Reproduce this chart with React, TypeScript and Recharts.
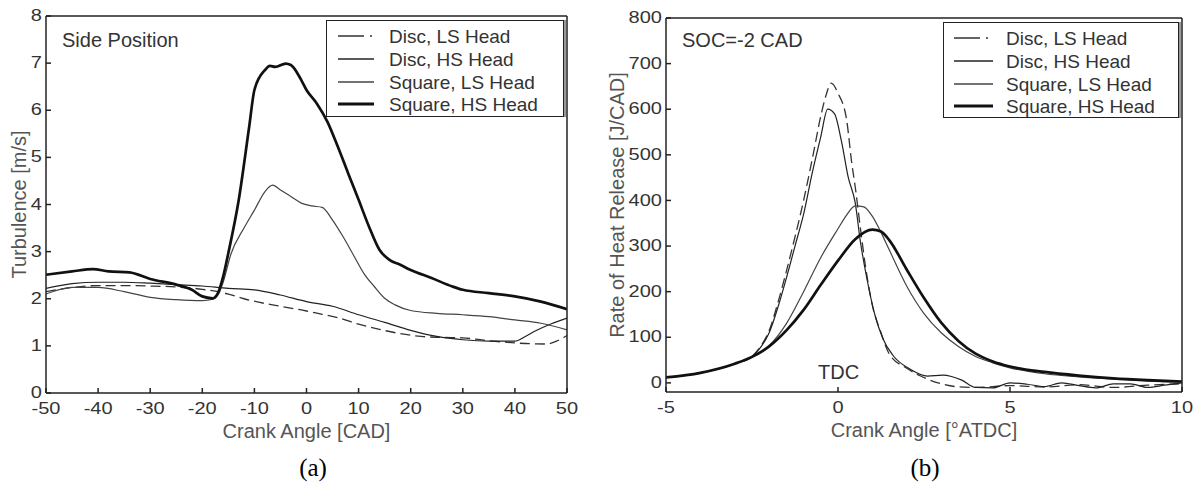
import React from 'react';
import { LineChart, Line, XAxis, YAxis, Legend } from 'recharts';

// ---------- (a) turbulence at the side position ----------
const turbAngleTicks = [-50, -40, -30, -20, -10, 0, 10, 20, 30, 40, 50];
const turbTicks = [0, 1, 2, 3, 4, 5, 6, 7, 8];

const discLsAngle = [-50, -45, -40, -35, -30, -25, -20, -15, -12, -8, -5, 0, 3, 6, 10, 14, 18, 22, 26, 30, 34, 38, 42, 46, 48, 50];
const discLsTurb = [2.15, 2.24, 2.28, 2.28, 2.27, 2.25, 2.2, 2.1, 2.0, 1.9, 1.84, 1.74, 1.67, 1.6, 1.46, 1.35, 1.26, 1.2, 1.18, 1.17, 1.12, 1.08, 1.05, 1.04, 1.1, 1.22];

const discHsAngle = [-50, -45, -40, -35, -30, -25, -20, -15, -10, -5, 0, 5, 10, 15, 20, 25, 30, 35, 40, 42, 44, 47, 50];
const discHsTurb = [2.22, 2.32, 2.35, 2.35, 2.33, 2.3, 2.27, 2.22, 2.19, 2.08, 1.94, 1.84, 1.66, 1.5, 1.33, 1.2, 1.13, 1.1, 1.1, 1.2, 1.32, 1.47, 1.59];

const squareLsAngle = [-50, -45, -40, -35, -30, -25, -20, -18, -17, -16, -14.5, -12, -10, -8, -6.5, -5, -3, -1, 1, 3, 5, 7, 9, 11, 13, 15, 17, 20, 25, 30, 35, 40, 45, 50];
const squareLsTurb = [2.1, 2.24, 2.24, 2.15, 2.03, 1.98, 1.96, 1.99, 2.08, 2.35, 2.95, 3.5, 3.88, 4.27, 4.41, 4.31, 4.17, 4.03, 3.97, 3.94, 3.67, 3.32, 2.93, 2.54, 2.26, 2.01, 1.87, 1.75, 1.69, 1.66, 1.62, 1.55, 1.48, 1.34];

const squareHsAngle = [-50, -45, -41, -38, -34, -30, -25, -22, -20, -18, -17, -16, -15, -13, -11, -10, -8, -7, -6, -4, -3, -1, 0, 2, 4, 6, 8, 10, 12, 14, 16, 18, 20, 24, 28, 30, 35, 40, 45, 50];
const squareHsTurb = [2.51, 2.58, 2.63, 2.58, 2.56, 2.42, 2.3, 2.19, 2.05, 2.01, 2.12, 2.47, 2.97, 4.1, 5.65, 6.43, 6.85, 6.94, 6.92, 6.99, 6.96, 6.64, 6.43, 6.14, 5.76, 5.23, 4.66, 4.1, 3.53, 3.04, 2.82, 2.72, 2.61, 2.44, 2.26, 2.19, 2.12, 2.05, 1.94, 1.78];

// ---------- (b) rate of heat release, SOC = -2 CAD ----------
const hrrAngleTicks = [-5, 0, 5, 10];
const hrrTicks = [0, 100, 200, 300, 400, 500, 600, 700, 800];

const discLsHrrAngle = [-5, -4, -3, -2.5, -2.25, -2, -1.75, -1.5, -1.25, -1, -0.75, -0.5, -0.35, -0.2, 0, 0.25, 0.4, 0.5, 0.65, 0.8, 1, 1.25, 1.5, 2, 2.4, 3, 3.4, 4, 5, 6, 7, 8, 9, 10];
const discLsHrr = [12, 22, 42, 58, 80, 115, 175, 245, 320, 400, 490, 585, 630, 657, 635, 577, 482, 430, 340, 255, 170, 110, 62, 32, 15, -2, -8, -10, -6, -9, -4, -10, -5, -2];

const discHsHrrAngle = [-5, -4, -3, -2.5, -2.25, -2, -1.75, -1.5, -1.25, -1, -0.75, -0.5, -0.3, -0.1, 0.1, 0.3, 0.5, 0.65, 0.85, 1.05, 1.3, 1.6, 2.1, 2.6, 3.05, 3.3, 3.6, 4, 4.5, 5, 5.5, 6, 6.5, 7, 7.5, 8, 8.5, 9, 9.5, 10];
const discHsHrr = [12, 22, 42, 58, 78, 110, 165, 230, 300, 370, 460, 540, 600, 590, 530, 450, 395, 310, 225, 155, 98, 60, 30, 15, 17, 14, 6, -10, -11, 0, -3, -8, 0, -6, -11, -2, -2, -10, -5, 0];

const squareLsHrrAngle = [-5, -4, -3, -2.5, -2, -1.5, -1, -0.5, 0, 0.25, 0.5, 0.75, 1, 1.25, 1.5, 2, 2.5, 3, 3.5, 4, 4.5, 5, 6, 7, 8, 9, 10];
const squareLsHrr = [12, 22, 42, 58, 82, 130, 200, 275, 338, 368, 388, 386, 365, 330, 290, 212, 152, 110, 80, 58, 44, 33, 20, 13, 8, 4, 2];

const squareHsHrrAngle = [-5, -4, -3, -2.5, -2, -1.5, -1, -0.5, 0, 0.5, 1, 1.25, 1.5, 2, 2.5, 3, 3.5, 4, 4.5, 5, 6, 7, 8, 9, 10];
const squareHsHrr = [12, 22, 42, 57, 80, 115, 160, 215, 268, 315, 336, 332, 312, 248, 186, 132, 92, 64, 47, 36, 24, 16, 10, 6, 3];

const seriesNames = ['Disc, LS Head', 'Disc, HS Head', 'Square, LS Head', 'Square, HS Head'];

const FONT = '"Liberation Sans", Arial, sans-serif';
const INK = '#222';

const toPoints = (xs: number[], ys: number[]) => xs.map((x, i) => ({ x, y: ys[i] }));

const lineStyles = [
  { stroke: '#333', strokeWidth: 1.3, dash: '10 5', legendDash: '26 6 2 20' },
  { stroke: '#222', strokeWidth: 1.2, dash: undefined, legendDash: undefined },
  { stroke: '#444', strokeWidth: 1.2, dash: undefined, legendDash: undefined },
  { stroke: '#111', strokeWidth: 2.7, dash: undefined, legendDash: undefined },
];

// tick labels of the source figure are wider than they are tall
const StretchTick = (props: any) => {
  const { x, y, payload, textAnchor, verticalAnchor } = props;
  const dy = verticalAnchor === 'start' ? '0.71em' : verticalAnchor === 'end' ? '0' : '0.32em';
  return (
    <text
      x={x}
      y={y}
      dy={dy}
      textAnchor={textAnchor}
      transform={`translate(${x} 0) scale(1.25 1) translate(${-x} 0)`}
      fontSize={16}
      fontFamily={FONT}
      fill="#333"
    >
      {payload.value}
    </text>
  );
};

function LegendBox({ box }: { box: { sample: [number, number]; textX: number; rows: number[] } }) {
  return (
    <div style={{ position: 'relative', width: '100%', height: '100%', boxSizing: 'border-box', border: `1.5px solid ${INK}`, background: '#fff', boxShadow: '2px 0 0 #999' }}>
      <svg width="100%" height="100%" style={{ position: 'absolute', left: 0, top: 0 }}>
        {seriesNames.map((name, i) => (
          <g key={name}>
            <line
              x1={box.sample[0]}
              x2={box.sample[1]}
              y1={box.rows[i]}
              y2={box.rows[i]}
              stroke={lineStyles[i].stroke}
              strokeWidth={i === 3 ? 3 : 1.4}
              strokeDasharray={lineStyles[i].legendDash}
            />
            <text x={box.textX} y={box.rows[i]} dominantBaseline="central" fontSize={19} fontFamily={FONT} fill="#333">
              {name}
            </text>
          </g>
        ))}
      </svg>
    </div>
  );
}

type PanelProps = {
  series: { x: number[]; y: number[] }[];
  xDomain: [number, number];
  xTicks: number[];
  yDomain: [number, number];
  yTicks: number[];
  xTitle: string;
  yTitle: string;
  yTitleX: number;
  yAxisWidth: number;
  margin: { top: number; right: number; bottom: number; left: number };
  legendPos: { left: number; top: number; width: number; height: number };
  legendBox: { sample: [number, number]; textX: number; rows: number[] };
  notes: { text: string; left: number; top: number }[];
};

function Panel(p: PanelProps) {
  return (
    <div style={{ position: 'relative', width: 600, height: 450 }}>
      <LineChart width={600} height={450} margin={p.margin}>
        <XAxis
          xAxisId="b"
          type="number"
          dataKey="x"
          domain={p.xDomain}
          ticks={p.xTicks}
          allowDataOverflow
          height={40}
          tickSize={-5}
          tickMargin={15}
          tick={<StretchTick />}
          axisLine={{ stroke: INK, strokeWidth: 1.5 }}
          tickLine={{ stroke: INK, strokeWidth: 1.5 }}
          label={(lp: any) => (
            <text
              x={lp.viewBox.x + lp.viewBox.width / 2}
              y={lp.viewBox.y + 38}
              textAnchor="middle"
              dominantBaseline="central"
              fontSize={20}
              fontFamily={FONT}
              fill="#555"
            >
              {p.xTitle}
            </text>
          )}
        />
        <XAxis
          xAxisId="t"
          orientation="top"
          type="number"
          dataKey="x"
          domain={p.xDomain}
          ticks={p.xTicks}
          allowDataOverflow
          height={1}
          tickSize={-5}
          tick={false}
          axisLine={{ stroke: INK, strokeWidth: 1.5 }}
          tickLine={{ stroke: INK, strokeWidth: 1.5 }}
        />
        <YAxis
          yAxisId="l"
          type="number"
          domain={p.yDomain}
          ticks={p.yTicks}
          allowDataOverflow
          width={p.yAxisWidth}
          tickSize={-5}
          tickMargin={9}
          tick={<StretchTick />}
          axisLine={{ stroke: INK, strokeWidth: 1.5 }}
          tickLine={{ stroke: INK, strokeWidth: 1.5 }}
          label={(lp: any) => {
            const cy = lp.viewBox.y + lp.viewBox.height / 2;
            return (
              <text
                x={p.yTitleX}
                y={cy}
                transform={`rotate(-90 ${p.yTitleX} ${cy})`}
                textAnchor="middle"
                dominantBaseline="central"
                fontSize={20}
                fontFamily={FONT}
                fill="#555"
              >
                {p.yTitle}
              </text>
            );
          }}
        />
        <YAxis
          yAxisId="r"
          orientation="right"
          type="number"
          domain={p.yDomain}
          ticks={p.yTicks}
          allowDataOverflow
          width={1}
          tickSize={-5}
          tick={false}
          axisLine={{ stroke: INK, strokeWidth: 1.5 }}
          tickLine={{ stroke: INK, strokeWidth: 1.5 }}
        />
        <Legend
          layout="horizontal"
          verticalAlign="middle"
          align="center"
          wrapperStyle={{ ...p.legendPos, position: 'absolute' }}
          content={() => <LegendBox box={p.legendBox} />}
        />
        {p.series.map((s, i) => (
          <Line
            key={seriesNames[i]}
            name={seriesNames[i]}
            xAxisId="b"
            yAxisId="l"
            data={toPoints(s.x, s.y)}
            dataKey="y"
            type="monotone"
            stroke={lineStyles[i].stroke}
            strokeWidth={lineStyles[i].strokeWidth}
            strokeDasharray={lineStyles[i].dash}
            dot={false}
            activeDot={false}
            isAnimationActive={false}
          />
        ))}
      </LineChart>
      {p.notes.map((n) => (
        <div
          key={n.text}
          style={{ position: 'absolute', left: n.left, top: n.top, fontFamily: FONT, fontSize: 20, color: '#333', whiteSpace: 'nowrap', lineHeight: '22px' }}
        >
          {n.text}
        </div>
      ))}
    </div>
  );
}

export default function App() {
  return (
    <div style={{ position: 'absolute', left: 0, top: 0, width: 1200, height: 488, background: '#fff' }}>
      <div style={{ position: 'absolute', left: 0, top: 0 }}>
        <Panel
          series={[
            { x: discLsAngle, y: discLsTurb },
            { x: discHsAngle, y: discHsTurb },
            { x: squareLsAngle, y: squareLsTurb },
            { x: squareHsAngle, y: squareHsTurb },
          ]}
          xDomain={[-50, 50]}
          xTicks={turbAngleTicks}
          yDomain={[0, 8]}
          yTicks={turbTicks}
          xTitle="Crank Angle [CAD]"
          yTitle="Turbulence [m/s]"
          yTitleX={19}
          yAxisWidth={46}
          margin={{ top: 15, right: 32, bottom: 17, left: 0 }}
          legendPos={{ left: 326, top: 20, width: 238, height: 97 }}
          legendBox={{ sample: [11, 47], textX: 62, rows: [15, 38, 61, 83] }}
          notes={[{ text: 'Side Position', left: 62, top: 29 }]}
        />
      </div>
      <div style={{ position: 'absolute', left: 600, top: 0 }}>
        <Panel
          series={[
            { x: discLsHrrAngle, y: discLsHrr },
            { x: discHsHrrAngle, y: discHsHrr },
            { x: squareLsHrrAngle, y: squareLsHrr },
            { x: squareHsHrrAngle, y: squareHsHrr },
          ]}
          xDomain={[-5, 10]}
          xTicks={hrrAngleTicks}
          yDomain={[-20, 800]}
          yTicks={hrrTicks}
          xTitle="Crank Angle [°ATDC]"
          yTitle="Rate of Heat Release [J/CAD]"
          yTitleX={17}
          yAxisWidth={66}
          margin={{ top: 17, right: 17, bottom: 18, left: 0 }}
          legendPos={{ left: 343, top: 22, width: 236, height: 96 }}
          legendBox={{ sample: [10, 49], textX: 62, rows: [15, 38, 61, 83] }}
          notes={[
            { text: 'SOC=-2 CAD', left: 82, top: 29 },
            { text: 'TDC', left: 218, top: 361 },
          ]}
        />
      </div>
      <div style={{ position: 'absolute', left: 283, top: 454, width: 60, textAlign: 'center', fontFamily: '"Liberation Serif", "Times New Roman", serif', fontSize: 25 }}>(a)</div>
      <div style={{ position: 'absolute', left: 895, top: 454, width: 60, textAlign: 'center', fontFamily: '"Liberation Serif", "Times New Roman", serif', fontSize: 25 }}>(b)</div>
    </div>
  );
}
